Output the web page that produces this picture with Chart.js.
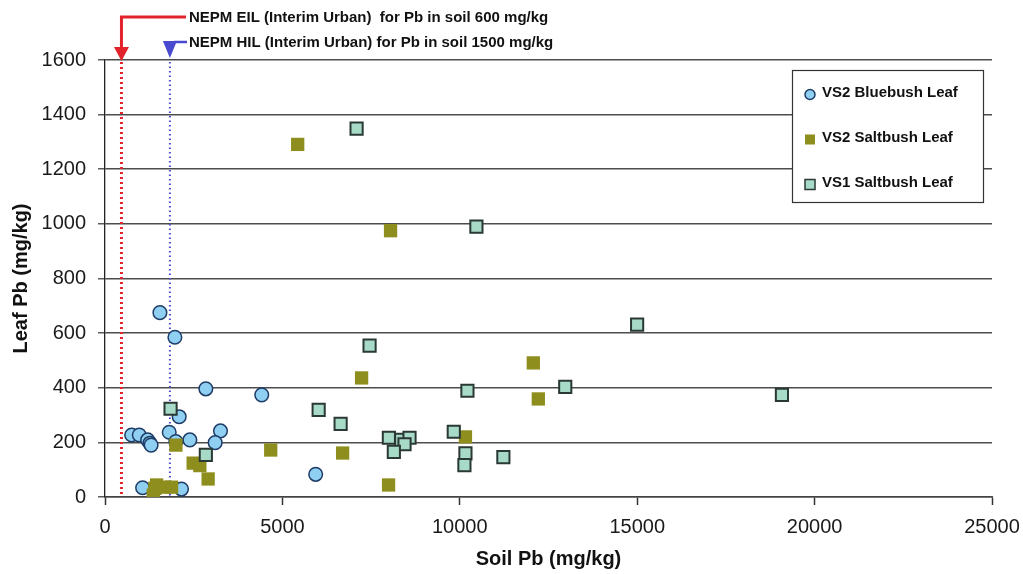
<!DOCTYPE html>
<html>
<head>
<meta charset="utf-8">
<script src="https://cdn.jsdelivr.net/npm/chart.js@4/dist/chart.umd.min.js"></script>
<style>
html,body{margin:0;padding:0;background:#fff;}
#wrap{width:1023px;height:574px;}
</style>
</head>
<body>
<div id="wrap"><canvas id="c" width="1023" height="574"></canvas></div>
<script>
// ---- data ----
const seriesNames = ['VS2 Bluebush Leaf', 'VS2 Saltbush Leaf', 'VS1 Saltbush Leaf'];

const bluebushX = [1548, 1970, 2842, 4418, 2091, 751, 966, 1201, 1266, 1300, 1810, 1998, 2392, 3255, 3105, 5938, 1060, 2157];
const bluebushY = [675, 585, 396, 374, 294, 227, 227, 209, 197, 190, 237, 203, 209, 242, 199, 83, 34, 29];

const saltbush2X = [5431, 8048, 7232, 12072, 12213, 10159, 7992, 4671, 6697, 1998, 2485, 2673, 2907, 1407, 1360, 1688, 1877, 1454];
const saltbush2Y = [1291, 975, 436, 491, 359, 220, 44, 172, 161, 190, 124, 115, 66, 32, 7, 36, 36, 44];

const saltbush1X = [7091, 10468, 14998, 7457, 12972, 10215, 19079, 6022, 6641, 9830, 8001, 8349, 8583, 8442, 8141, 10159, 10130, 11228, 1848, 2842];
const saltbush1Y = [1349, 990, 631, 554, 403, 389, 374, 319, 268, 239, 217, 209, 217, 193, 165, 160, 117, 146, 323, 154];

const guideValues = [464, 1829];
const guideLabels = ['NEPM EIL (Interim Urban)  for Pb in soil 600 mg/kg', 'NEPM HIL (Interim Urban) for Pb in soil 1500 mg/kg'];

const xTicks = [0, 5000, 10000, 15000, 20000, 25000];
const yTicks = [0, 200, 400, 600, 800, 1000, 1200, 1400, 1600];

function pts(xs, ys) { return xs.map((x, i) => ({x: x, y: ys[i]})); }

const FONT = "'Liberation Sans', Arial, sans-serif";
const styles = [
  {bg: '#8fd0f2', border: '#1e3c66', style: 'circle', r: 6.8, bw: 1.5},
  {bg: '#8e8e1e', border: '#8e8e1e', style: 'rect', r: 9.4, bw: 0},
  {bg: '#a8dac8', border: '#2a3935', style: 'rect', r: 8.6, bw: 2}
];

const overlay = {
  id: 'overlay',
  beforeDatasetsDraw(chart) {
    const {ctx, chartArea, scales} = chart;
    const colors = ['#e3232b', '#4a4ad0'];
    const widths = [3, 2];
    const dashes = [[2, 3], [1.5, 3]];
    ctx.save();
    guideValues.forEach((v, i) => {
      const px = scales.x.getPixelForValue(v);
      ctx.strokeStyle = colors[i];
      ctx.lineWidth = widths[i];
      ctx.setLineDash(dashes[i]);
      ctx.beginPath();
      ctx.moveTo(px, chartArea.top + 2);
      ctx.lineTo(px, chartArea.bottom);
      ctx.stroke();
    });
    ctx.restore();
  },
  afterDraw(chart) {
    const {ctx, scales} = chart;
    ctx.save();
    // red arrow (EIL)
    const rx = scales.x.getPixelForValue(guideValues[0]);
    ctx.strokeStyle = '#e3232b';
    ctx.fillStyle = '#e3232b';
    ctx.lineWidth = 3;
    ctx.beginPath();
    ctx.moveTo(186, 17);
    ctx.lineTo(rx, 17);
    ctx.lineTo(rx, 48);
    ctx.stroke();
    ctx.beginPath();
    ctx.moveTo(rx - 7.5, 47);
    ctx.lineTo(rx + 7.5, 47);
    ctx.lineTo(rx, 61);
    ctx.closePath();
    ctx.fill();
    // blue arrow (HIL)
    const bx = scales.x.getPixelForValue(guideValues[1]);
    ctx.strokeStyle = '#4a4ad0';
    ctx.fillStyle = '#4a4ad0';
    ctx.lineWidth = 2.5;
    ctx.beginPath();
    ctx.moveTo(187, 42);
    ctx.lineTo(bx + 4, 42);
    ctx.stroke();
    ctx.beginPath();
    ctx.moveTo(bx - 7, 41);
    ctx.lineTo(bx + 7, 41);
    ctx.lineTo(bx, 58);
    ctx.closePath();
    ctx.fill();
    // annotation labels
    ctx.fillStyle = '#111';
    ctx.font = 'bold 15px ' + FONT;
    ctx.textBaseline = 'middle';
    ctx.textAlign = 'left';
    ctx.fillText(guideLabels[0], 189, 18);
    ctx.fillText(guideLabels[1], 189, 43);

    // legend box
    const L = 792, T = 70, R = 983, B = 202;
    ctx.fillStyle = '#fff';
    ctx.fillRect(L, T, R - L, B - T);
    ctx.strokeStyle = '#333';
    ctx.lineWidth = 1.2;
    ctx.strokeRect(L + 0.5, T + 0.5, R - L, B - T);
    const rowY = [93, 138, 183];
    seriesNames.forEach((name, i) => {
      const s = styles[i];
      const cx = 810, cy = rowY[i] + 1.5;
      ctx.fillStyle = s.bg;
      ctx.strokeStyle = s.border;
      ctx.lineWidth = 1.5;
      if (s.style === 'circle') {
        ctx.beginPath();
        ctx.arc(cx, cy, 5, 0, Math.PI * 2);
        ctx.fill();
        ctx.stroke();
      } else {
        ctx.fillRect(cx - 5, cy - 5, 10, 10);
        if (s.bw) ctx.strokeRect(cx - 5, cy - 5, 10, 10);
      }
      ctx.fillStyle = '#111';
      ctx.font = 'bold 15px ' + FONT;
      ctx.textBaseline = 'middle';
      ctx.fillText(name, 822, rowY[i]);
    });
    ctx.restore();
  }
};

const datasets = [
  {data: pts(bluebushX, bluebushY), order: 3},
  {data: pts(saltbush2X, saltbush2Y), order: 2},
  {data: pts(saltbush1X, saltbush1Y), order: 1}
].map((d, i) => Object.assign(d, {
  label: seriesNames[i],
  backgroundColor: styles[i].bg,
  borderColor: styles[i].border,
  borderWidth: styles[i].bw,
  pointStyle: styles[i].style,
  pointRadius: styles[i].r,
  pointHoverRadius: styles[i].r
}));

new Chart(document.getElementById('c'), {
  type: 'scatter',
  data: {datasets: datasets},
  options: {
    responsive: false,
    animation: false,
    events: [],
    layout: {padding: {top: 60, right: 31, left: 0, bottom: 0}},
    plugins: {legend: {display: false}, tooltip: {enabled: false}},
    scales: {
      x: {
        type: 'linear',
        min: 0, max: 25000,
        afterBuildTicks(scale) { scale.ticks = xTicks.map(v => ({value: v})); },
        afterFit(scale) { scale.height = 77; scale.paddingRight = 0; scale.paddingLeft = 0; },
        grid: {display: true, drawOnChartArea: false, drawTicks: true, tickLength: 8, tickColor: '#333', tickWidth: 1.5},
        border: {display: true, color: '#444', width: 1.5},
        ticks: {color: '#1a1a1a', font: {family: FONT, size: 20}, padding: 10, maxRotation: 0, callback: v => String(v)},
        title: {display: true, text: 'Soil Pb (mg/kg)', color: '#111', font: {family: FONT, size: 20, weight: 'bold'}, padding: {top: 0, bottom: 3}}
      },
      y: {
        type: 'linear',
        min: 0, max: 1600,
        afterBuildTicks(scale) { scale.ticks = yTicks.map(v => ({value: v})); },
        afterFit(scale) { scale.width = 105; },
        grid: {display: true, color: '#4d4d4d', lineWidth: 1.6, drawTicks: true, tickLength: 7, tickColor: '#333', tickWidth: 1.2},
        border: {display: true, color: '#222', width: 1.3},
        ticks: {color: '#1a1a1a', font: {family: FONT, size: 20}, padding: 12, callback: v => String(v)},
        title: {display: true, text: 'Leaf Pb (mg/kg)', color: '#111', font: {family: FONT, size: 20, weight: 'bold'}, padding: {top: 9, bottom: 0}}
      }
    }
  },
  plugins: [overlay]
});
</script>
</body>
</html>
